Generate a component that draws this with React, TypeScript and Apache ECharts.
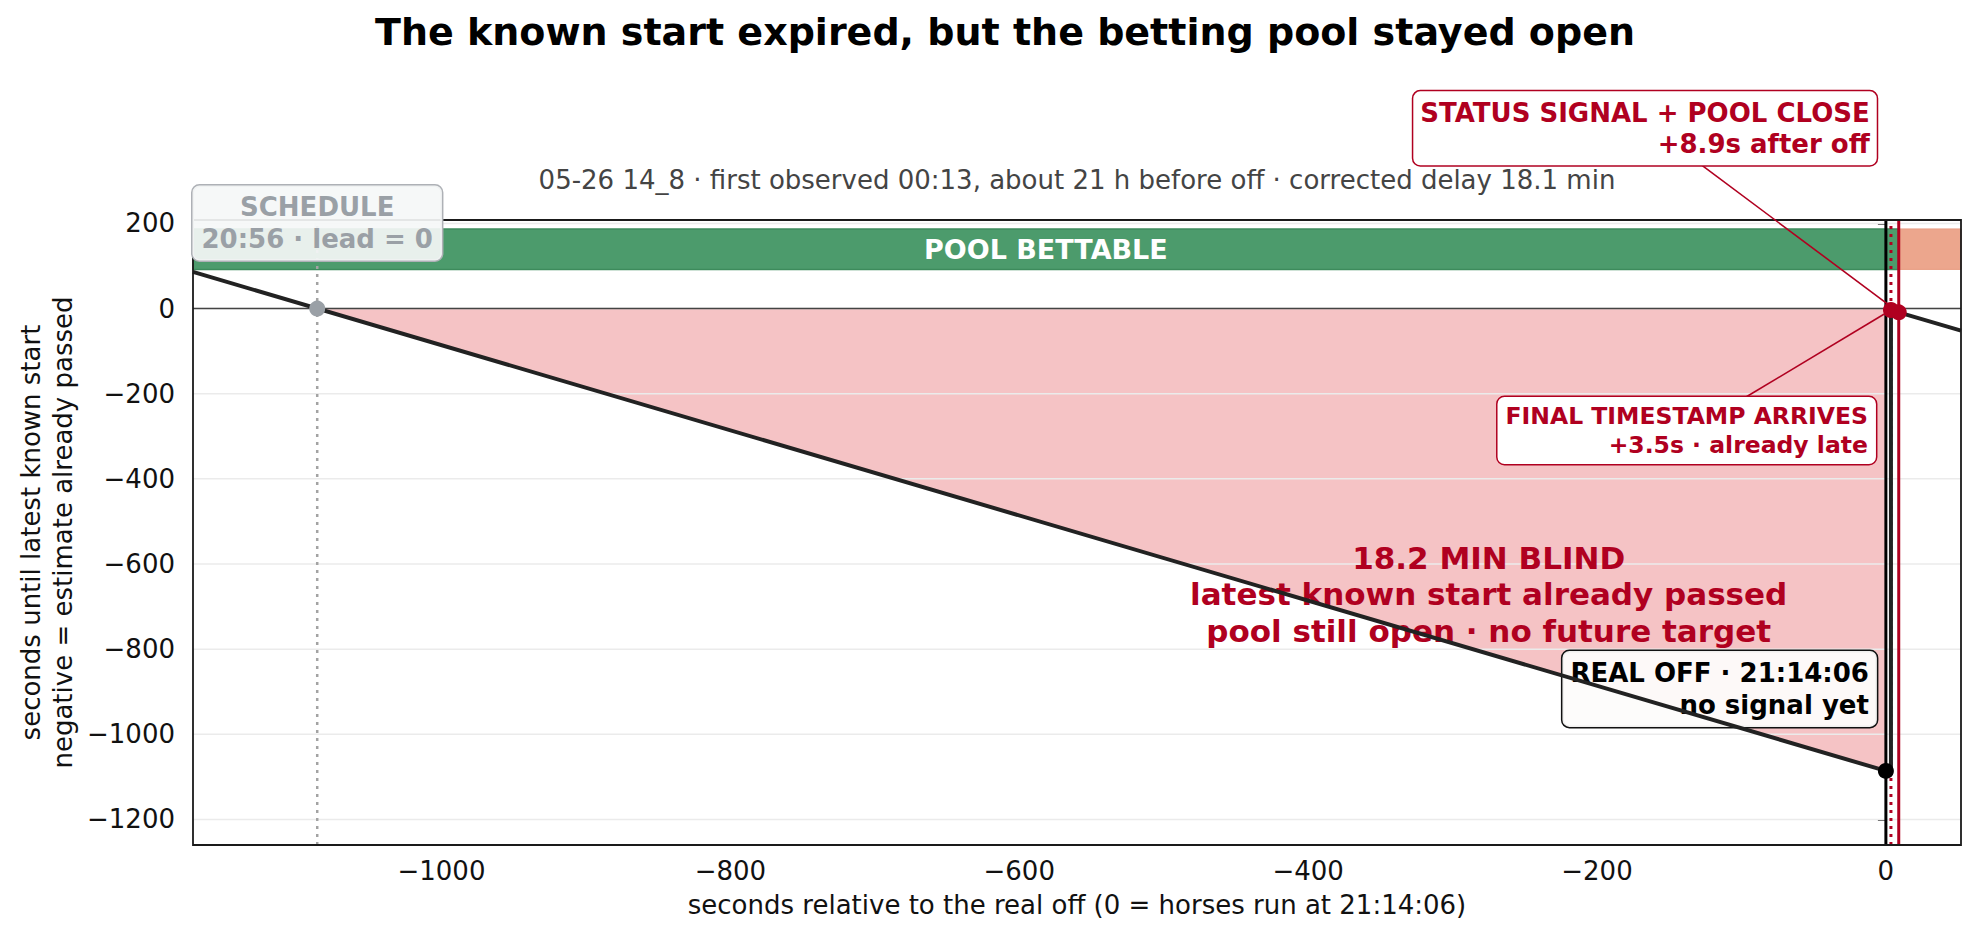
import React, { useEffect, useRef } from 'react';
import * as echarts from 'echarts';

// Axis windows (seconds relative to the real off / seconds of lead)
const X_MIN = -1172;
const X_MAX = 52;
const Y_MIN = -1260;
const Y_MAX = 208;
const xTicks = [-1000, -800, -600, -400, -200, 0];
const yTicks = [-1200, -1000, -800, -600, -400, -200, 0, 200];

// Event times, seconds relative to the real off (21:14:06)
const SCHEDULE_T = -1086; // 20:56 scheduled start, lead = 0
const REAL_OFF_T = 0;
const TIMESTAMP_T = 3.5; // final timestamp arrives
const POOL_CLOSE_T = 8.9; // status signal + pool close

// Lead until the latest known start, over time
const leadTimes = [-1172, 0, 3.5, 3.5, 8.9, 52];
const leadValues = [86, -1086, -1089.5, -3.5, -8.9, -52];

// Blind window: known start already passed, pool still open
const blindTimes = [-1086, 0];
const blindValues = [0, -1086];

// Pool state band (y extent) and segments
const poolBandY = [92, 187];
const poolStarts = [X_MIN, POOL_CLOSE_T];
const poolEnds = [POOL_CLOSE_T, X_MAX];
const poolLabels = ['POOL BETTABLE', ''];

// Marked events on the lead line
const eventTimes = [SCHEDULE_T, REAL_OFF_T, TIMESTAMP_T, POOL_CLOSE_T];
const eventLeads = [0, -1086, -3.5, -8.9];

const RED = '#b00020';
const GRAY = '#9aa0a6';
const FONT = "'DejaVu Sans', sans-serif";

const GRID = { left: 193, top: 220, right: 15, bottom: 92 };

const fmt = (v: number) => (v < 0 ? '\u2212' + Math.abs(v) : String(v));

export default function App() {
  const ref = useRef<HTMLDivElement>(null);

  useEffect(() => {
    const chart = echarts.init(ref.current!, null, { renderer: 'svg' });

    const vline = (t: number, color: string, width: number, type: any, z: number) => ({
      type: 'line',
      data: [
        [t, Y_MIN],
        [t, Y_MAX],
      ],
      symbol: 'none',
      silent: true,
      lineStyle: { color, width, type, cap: 'butt' },
      z,
    });

    const hline = (v: number, color: string, width: number, z: number) => ({
      type: 'line',
      data: [
        [X_MIN, v],
        [X_MAX, v],
      ],
      symbol: 'none',
      silent: true,
      lineStyle: { color, width },
      z,
    });

    const option: any = {
      animation: false,
      grid: { ...GRID, containLabel: false },
      xAxis: {
        type: 'value',
        min: X_MIN,
        max: X_MAX,
        axisLine: { show: false },
        splitLine: { show: false },
        axisTick: {
          show: true,
          customValues: xTicks,
          length: 8,
          lineStyle: { color: '#222', width: 1.6 },
        },
        axisLabel: {
          customValues: xTicks,
          formatter: fmt,
          fontSize: 26,
          fontFamily: FONT,
          color: '#111',
          margin: 13,
        },
        name: 'seconds relative to the real off (0 = horses run at 21:14:06)',
        nameLocation: 'middle',
        nameGap: 47,
        nameTextStyle: { fontSize: 26, fontFamily: FONT, color: '#111' },
      },
      yAxis: {
        type: 'value',
        min: Y_MIN,
        max: Y_MAX,
        axisLine: { show: false },
        splitLine: { show: false },
        axisTick: {
          show: true,
          customValues: yTicks,
          length: 8,
          lineStyle: { color: '#222', width: 1.6 },
        },
        axisLabel: {
          customValues: yTicks,
          formatter: fmt,
          fontSize: 26,
          fontFamily: FONT,
          color: '#111',
          margin: 18,
        },
      },
      series: [
        // blind window fill
        {
          type: 'line',
          data: blindTimes.map((t, i) => [t, blindValues[i]]),
          symbol: 'none',
          silent: true,
          lineStyle: { width: 0 },
          areaStyle: { color: '#f5c3c5', opacity: 1 },
          z: 1,
        },
        // horizontal grid
        ...yTicks.map((v) => hline(v, '#ebebeb', 1.5, 2)),
        // pool state bands
        {
          type: 'custom',
          silent: true,
          z: 3,
          data: poolStarts.map((s, i) => [s, poolEnds[i], poolBandY[0], poolBandY[1], i]),
          renderItem: (params: any, api: any) => {
            const idx = api.value(4);
            const p1 = api.coord([api.value(0), api.value(3)]);
            const p2 = api.coord([api.value(1), api.value(2)]);
            const children: any[] = [
              {
                type: 'rect',
                shape: { x: p1[0], y: p1[1], width: p2[0] - p1[0], height: p2[1] - p1[1] },
                style:
                  idx === 0
                    ? { fill: '#4c9b6c', stroke: '#3d8b5c', lineWidth: 1.5 }
                    : { fill: '#eca68d', stroke: '#e89c82', lineWidth: 1 },
              },
            ];
            if (poolLabels[idx]) {
              children.push({
                type: 'text',
                x: (p1[0] + p2[0]) / 2,
                y: (p1[1] + p2[1]) / 2,
                style: {
                  text: poolLabels[idx],
                  fill: '#ffffff',
                  font: `bold 27px ${FONT}`,
                  align: 'center',
                  verticalAlign: 'middle',
                },
              });
            }
            return { type: 'group', children };
          },
        },
        // zero lead
        hline(0, '#444', 1.6, 4),
        // event markers
        vline(SCHEDULE_T, '#a3a3a3', 2.5, [3, 5], 5),
        vline(REAL_OFF_T, '#000', 3, 'solid', 5),
        vline(TIMESTAMP_T, RED, 3, [3, 5], 5),
        vline(POOL_CLOSE_T, RED, 3, 'solid', 5),
        // lead until latest known start
        {
          type: 'line',
          data: leadTimes.map((t, i) => [t, leadValues[i]]),
          symbol: 'none',
          silent: true,
          lineStyle: { color: '#222', width: 4, join: 'miter' },
          z: 6,
        },
        // event dots
        {
          type: 'scatter',
          symbolSize: 16,
          silent: true,
          z: 7,
          data: eventTimes.map((t, i) => ({
            value: [t, eventLeads[i]],
            itemStyle: { color: i === 0 ? GRAY : i === 1 ? '#000' : RED, opacity: 1 },
          })),
        },
      ],
    };

    chart.setOption(option);

    const px = (x: number, y: number) => chart.convertToPixel({ gridIndex: 0 }, [x, y]) as number[];
    const schedule = px(SCHEDULE_T, 0);
    const off = px(REAL_OFF_T, -1086);
    const stamp = px(TIMESTAMP_T, -3.5);
    const close = px(POOL_CLOSE_T, -8.9);
    const tl = px(X_MIN, Y_MAX);
    const br = px(X_MAX, Y_MIN);
    const blindCenter = px(-275, -670);

    const boxText = (
      x: number,
      y: number,
      text: string,
      align: string,
      color: string,
      border: string,
      bg: string,
      size: number,
      lh: number,
      padding: number[],
      z: number
    ) => ({
      type: 'text',
      x,
      y,
      z,
      silent: true,
      style: {
        text,
        fill: color,
        font: `bold ${size}px ${FONT}`,
        align,
        verticalAlign: 'top',
        lineHeight: lh,
        backgroundColor: bg,
        borderColor: border,
        borderWidth: 1.5,
        borderRadius: 7,
        padding,
      },
    });

    const plain = (x: number, y: number, text: string, font: string, fill: string, z: number, extra: any = {}) => ({
      type: 'text',
      x,
      y,
      z,
      silent: true,
      ...extra,
      style: { text, font, fill, align: 'center', verticalAlign: 'middle', ...(extra.style || {}) },
    });

    chart.setOption({
      graphic: [
        // plot frame
        {
          type: 'rect',
          z: 8,
          silent: true,
          shape: { x: tl[0], y: tl[1], width: br[0] - tl[0], height: br[1] - tl[1] },
          style: { fill: 'none', stroke: '#1a1a1a', lineWidth: 1.8 },
        },
        plain(1005, 32, 'The known start expired, but the betting pool stayed open', `bold 38px ${FONT}`, '#000', 10),
        plain(
          (tl[0] + br[0]) / 2,
          180,
          '05-26 14_8 \u00b7 first observed 00:13, about 21 h before off \u00b7 corrected delay 18.1 min',
          `26px ${FONT}`,
          '#444',
          10
        ),
        plain(
          47,
          (tl[1] + br[1]) / 2,
          'seconds until latest known start\nnegative = estimate already passed',
          `26px ${FONT}`,
          '#111',
          10,
          { rotation: Math.PI / 2, style: { lineHeight: 32 } }
        ),
        // schedule callout
        boxText(schedule[0], schedule[1] - 123, 'SCHEDULE\n20:56 \u00b7 lead = 0', 'center', GRAY, '#aeb1b6', 'rgba(245,247,247,0.92)', 26, 31.5, [6, 9, 6, 9], 10),
        // status signal callout + leader
        {
          type: 'line',
          z: 9,
          silent: true,
          shape: { x1: 1702, y1: close[1] - 147, x2: close[0], y2: close[1] },
          style: { stroke: RED, lineWidth: 1.6 },
        },
        boxText(close[0] - 22, close[1] - 221, 'STATUS SIGNAL + POOL CLOSE\n+8.9s after off', 'right', RED, RED, '#ffffff', 26, 31, [6, 7, 6, 7], 10),
        // final timestamp callout + leader
        {
          type: 'line',
          z: 9,
          silent: true,
          shape: { x1: 1746, y1: stamp[1] + 87, x2: stamp[0], y2: stamp[1] },
          style: { stroke: RED, lineWidth: 1.6 },
        },
        boxText(stamp[0] - 15, stamp[1] + 87, 'FINAL TIMESTAMP ARRIVES\n+3.5s \u00b7 already late', 'right', RED, RED, '#ffffff', 23.5, 28.5, [5, 8, 5, 8], 10),
        // real off callout (sits under the lead line)
        boxText(off[0] - 9, off[1] - 120, 'REAL OFF \u00b7 21:14:06\nno signal yet', 'right', '#000', '#111', 'rgba(253,252,251,0.95)', 26, 32, [6, 8, 6, 8], 5),
        // blind window label
        plain(blindCenter[0], blindCenter[1] - 36, '18.2 MIN BLIND', `bold 31px ${FONT}`, RED, 5),
        plain(blindCenter[0], blindCenter[1], 'latest known start already passed', `bold 31px ${FONT}`, RED, 5),
        plain(blindCenter[0], blindCenter[1] + 37, 'pool still open \u00b7 no future target', `bold 31px ${FONT}`, RED, 5),
      ],
    });

    return () => chart.dispose();
  }, []);

  return <div ref={ref} style={{ position: 'fixed', left: 0, top: 0, width: 1976, height: 937, background: '#fff' }} />;
}
